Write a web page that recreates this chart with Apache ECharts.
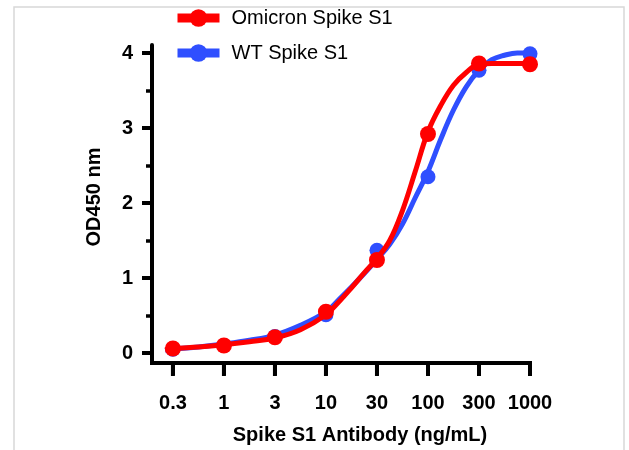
<!DOCTYPE html>
<html>
<head>
<meta charset="utf-8">
<script src="https://cdn.jsdelivr.net/npm/echarts@6/dist/echarts.min.js"></script>
<style>
html,body{margin:0;padding:0;background:#fff;}
#chart{width:629px;height:450px;}
</style>
</head>
<body>
<div id="chart"></div>
<script>
// Tick labels (ng/mL), equally spaced on the axis
const tickLabels = ['0.3', '1', '3', '10', '30', '100', '300', '1000'];
const tickPos = [0, 1, 2, 3, 4, 5, 6, 7];
const yTicks = [0, 1, 2, 3, 4];
const yMinorTicks = [0.5, 1.5, 2.5, 3.5];

// Measured points (OD450)
const omicronPoints = [0.06, 0.10, 0.21, 0.55, 1.24, 2.92, 3.86, 3.85];
const wtPoints = [0.05, 0.10, 0.22, 0.51, 1.37, 2.35, 3.77, 3.99];

// Fitted curves (position on axis, OD450)
const curveX = [-0.15, 0, 0.5, 1, 1.5, 2, 2.5, 3, 3.25, 3.5, 3.75, 4, 4.25, 4.5, 4.75, 5, 5.25, 5.5, 5.75, 6, 6.25, 6.5, 6.75, 7];
const omicronCurve = [0.04, 0.06, 0.08, 0.11, 0.15, 0.20, 0.31, 0.51, 0.68, 0.87, 1.07, 1.26, 1.50, 1.90, 2.42, 2.95, 3.30, 3.57, 3.74, 3.85, 3.86, 3.86, 3.86, 3.86];
const wtCurve = [0.03, 0.05, 0.08, 0.12, 0.17, 0.24, 0.37, 0.55, 0.71, 0.88, 1.06, 1.25, 1.45, 1.72, 2.07, 2.42, 2.85, 3.24, 3.55, 3.77, 3.91, 3.97, 4.0, 4.0];

const seriesNames = ['Omicron Spike S1', 'WT Spike S1'];
const RED = '#ff0000';
const BLUE = '#2f4fff';
const X_MIN = -0.41, X_MAX = 7, Y_MIN = -0.133, Y_MAX = 4.107;

const pairs = (xs, ys) => xs.map((x, i) => [x, ys[i]]);
const FONT = 'Liberation Sans, Arial, Helvetica, sans-serif';
const AX = '#000';

const frame = {
  type: 'rect', z: -10, silent: true,
  shape: {x: 14, y: 7, width: 610, height: 470},
  style: {fill: 'none', stroke: '#d8d8d8', lineWidth: 1.5}
};

const chart = echarts.init(document.getElementById('chart'), null, {renderer: 'canvas'});
chart.setOption({
  animation: false,
  backgroundColor: '#ffffff',
  textStyle: {fontFamily: FONT, color: '#000'},
  graphic: [frame],
  legend: {
    data: [{name: seriesNames[0]}, {name: seriesNames[1]}],
    orient: 'vertical', left: 173, top: 8, padding: 0,
    itemWidth: 42, itemHeight: 22, itemGap: 15,
    lineStyle: {width: 9},
    textStyle: {fontSize: 20, fontFamily: FONT, color: '#000', padding: [0, 0, 0, 7]}
  },
  grid: {left: 152, right: 99, top: 45, bottom: 87, containLabel: false},
  xAxis: {
    type: 'value', min: X_MIN, max: X_MAX, position: 'bottom', zlevel: 1, z: 10,
    name: 'Spike S1 Antibody (ng/mL)', nameLocation: 'middle', nameGap: 62,
    nameTextStyle: {fontSize: 20, fontWeight: 'bold', fontFamily: FONT, color: '#000', padding: [0, 0, 0, 38]},
    axisLine: {show: true, onZero: false, lineStyle: {color: AX, width: 4}},
    axisTick: {show: true, customValues: tickPos, length: 12, lineStyle: {color: AX, width: 4}},
    axisLabel: {show: true, customValues: tickPos, margin: 30, fontSize: 20, fontWeight: 'bold', color: '#000', fontFamily: FONT,
      formatter: v => tickLabels[Math.round(v)]},
    splitLine: {show: false}
  },
  yAxis: [{
    type: 'value', min: Y_MIN, max: Y_MAX, position: 'left',
    name: 'OD450 nm', nameLocation: 'middle', nameGap: 48,
    nameTextStyle: {fontSize: 20, fontWeight: 'bold', fontFamily: FONT, color: '#000', padding: [0, 0, 0, 14]},
    axisLine: {show: true, onZero: false, lineStyle: {color: AX, width: 4}},
    axisTick: {show: true, customValues: yTicks, length: 10, lineStyle: {color: AX, width: 4}},
    axisLabel: {show: true, customValues: yTicks, margin: 19, fontSize: 20, fontWeight: 'bold', color: '#000', fontFamily: FONT},
    splitLine: {show: false}
  }, {
    type: 'value', min: Y_MIN, max: Y_MAX, position: 'left',
    axisLine: {show: false, onZero: false},
    axisTick: {show: true, customValues: yMinorTicks, length: 6, lineStyle: {color: AX, width: 3.5}},
    axisLabel: {show: false},
    splitLine: {show: false}
  }],
  series: [
    {name: seriesNames[1], type: 'line', data: pairs(curveX, wtCurve), smooth: 0.4, showSymbol: false,
      symbol: 'circle', symbolSize: 17, itemStyle: {color: BLUE}, lineStyle: {color: BLUE, width: 5}, z: 2},
    {name: seriesNames[1], type: 'scatter', data: pairs(tickPos, wtPoints),
      symbol: 'circle', symbolSize: 15, itemStyle: {color: BLUE, opacity: 1}, z: 2},
    {name: seriesNames[0], type: 'line', data: pairs(curveX, omicronCurve), smooth: 0.4, showSymbol: false,
      symbol: 'circle', symbolSize: 17, itemStyle: {color: RED}, lineStyle: {color: RED, width: 5}, z: 3},
    {name: seriesNames[0], type: 'scatter', data: pairs(tickPos, omicronPoints),
      symbol: 'circle', symbolSize: 16, itemStyle: {color: RED, opacity: 1}, z: 3}
  ]
});

// Reinforce the x axis line and its ticks on a top layer, positioned through the chart's own scales
let p0 = null, p1 = null;
try {
  p0 = chart.convertToPixel({xAxisIndex: 0, yAxisIndex: 0}, [X_MIN, Y_MIN]);
  p1 = chart.convertToPixel({xAxisIndex: 0, yAxisIndex: 0}, [X_MAX, Y_MIN]);
} catch (e) {}
const ok = p0 && p1 && isFinite(p0[0]) && isFinite(p0[1]) && isFinite(p1[0]);
const gx0 = ok ? p0[0] : 152, gx1 = ok ? p1[0] : 629 - 99, gy = ok ? p0[1] : 450 - 87;
const toPx = t => gx0 + (t - X_MIN) / (X_MAX - X_MIN) * (gx1 - gx0);
const extra = [{
  type: 'line', zlevel: 2, z: 50, silent: true,
  shape: {x1: gx0 - 2, y1: gy, x2: gx1 + 2, y2: gy},
  style: {stroke: AX, lineWidth: 4}
}];
tickPos.forEach(t => {
  const x = toPx(t);
  extra.push({type: 'line', zlevel: 2, z: 50, silent: true,
    shape: {x1: x, y1: gy, x2: x, y2: gy + 13},
    style: {stroke: AX, lineWidth: 4}});
});
chart.setOption({graphic: [frame].concat(extra)}, {replaceMerge: ['graphic']});
</script>
</body>
</html>
